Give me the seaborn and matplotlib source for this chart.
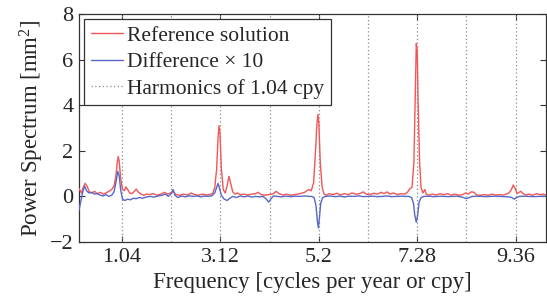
import numpy as np
import pandas as pd
import matplotlib
matplotlib.use("Agg")
import matplotlib.pyplot as plt
import seaborn as sns

# ---- data ----
ref_freq = [0.13, 0.18, 0.22, 0.26, 0.30, 0.35, 0.40, 0.46, 0.52, 0.58, 0.64, 0.70, 0.76, 0.82, 0.87,
            0.91, 0.94, 0.96, 0.98, 1.01, 1.05, 1.09, 1.12, 1.16, 1.20, 1.25, 1.30, 1.34, 1.38, 1.44,
            1.50, 1.56, 1.62, 1.70, 1.78, 1.86, 1.94, 2.00, 2.06, 2.12, 2.18, 2.26, 2.34, 2.42, 2.50,
            2.58, 2.66, 2.74, 2.82, 2.90, 2.96, 3.00, 3.04, 3.07, 3.09, 3.11, 3.14, 3.18, 3.22, 3.26,
            3.30, 3.34, 3.38, 3.43, 3.48, 3.54, 3.62, 3.70, 3.78, 3.86, 3.92, 3.98, 4.06, 4.14, 4.22,
            4.30, 4.36, 4.44, 4.52, 4.60, 4.70, 4.80, 4.90, 4.98, 5.04, 5.09, 5.13, 5.16, 5.18, 5.20,
            5.23, 5.27, 5.31, 5.36, 5.42, 5.50, 5.58, 5.66, 5.74, 5.82, 5.90, 5.98, 6.06, 6.14, 6.20,
            6.28, 6.36, 6.44, 6.52, 6.58, 6.64, 6.70, 6.78, 6.86, 6.94, 7.02, 7.08, 7.13, 7.17, 7.21,
            7.24, 7.26, 7.28, 7.30, 7.33, 7.36, 7.40, 7.44, 7.47, 7.52, 7.60, 7.68, 7.76, 7.84, 7.92,
            8.00, 8.08, 8.16, 8.24, 8.30, 8.36, 8.42, 8.48, 8.54, 8.62, 8.70, 8.78, 8.86, 8.94, 9.02,
            9.10, 9.16, 9.22, 9.27, 9.31, 9.35, 9.39, 9.43, 9.47, 9.52, 9.58, 9.64, 9.72, 9.80, 9.88,
            9.95, 10.0]
ref_power = [0.35, 0.15, 0.40, 0.57, 0.45, 0.20, 0.15, 0.22, 0.12, 0.18, 0.10, 0.15, 0.22, 0.30, 0.45,
             0.90, 1.50, 1.75, 1.55, 0.80, 0.30, 0.25, 0.42, 0.30, 0.15, 0.12, 0.22, 0.32, 0.20, 0.10,
             0.05, 0.10, 0.08, 0.12, 0.05, 0.10, 0.18, 0.10, 0.15, 0.22, 0.08, 0.05, 0.10, 0.06, 0.15,
             0.08, 0.05, 0.10, 0.06, 0.08, 0.15, 0.40, 1.20, 2.60, 3.10, 2.80, 1.20, 0.30, 0.15, 0.45,
             0.88, 0.55, 0.20, 0.10, 0.15, 0.08, 0.10, 0.06, 0.10, 0.12, 0.18, 0.08, 0.05, 0.08, 0.10,
             0.22, 0.12, 0.06, 0.10, 0.05, 0.08, 0.12, 0.18, 0.30, 0.25, 0.60, 2.00, 3.20, 3.60, 3.20,
             1.50, 0.40, 0.10, 0.05, 0.12, 0.08, 0.14, 0.06, 0.12, 0.08, 0.15, 0.10, 0.12, 0.20, 0.10,
             0.08, 0.14, 0.10, 0.18, 0.12, 0.20, 0.10, 0.15, 0.08, 0.12, 0.10, 0.20, 0.35, 0.40, 1.50,
             4.50, 6.70, 6.40, 4.00, 1.50, 0.40, 0.15, 0.30, 0.10, 0.05, 0.10, 0.06, 0.12, 0.08, 0.12,
             0.06, 0.10, 0.05, 0.08, 0.15, 0.10, 0.20, 0.18, 0.06, 0.05, 0.08, 0.05, 0.10, 0.06, 0.08,
             0.06, 0.10, 0.15, 0.30, 0.50, 0.35, 0.12, 0.18, 0.22, 0.12, 0.06, 0.10, 0.05, 0.12, 0.08,
             0.10, 0.05]

diff_freq = [0.13, 0.17, 0.21, 0.25, 0.29, 0.34, 0.40, 0.46, 0.52, 0.58, 0.64, 0.70, 0.76, 0.82, 0.87,
             0.91, 0.95, 0.98, 1.01, 1.05, 1.10, 1.16, 1.22, 1.28, 1.34, 1.40, 1.48, 1.56, 1.64, 1.72,
             1.80, 1.88, 1.96, 2.02, 2.08, 2.12, 2.16, 2.22, 2.30, 2.38, 2.46, 2.54, 2.62, 2.70, 2.78,
             2.86, 2.94, 3.00, 3.04, 3.07, 3.10, 3.14, 3.20, 3.26, 3.32, 3.38, 3.46, 3.54, 3.62, 3.70,
             3.78, 3.86, 3.94, 4.02, 4.08, 4.14, 4.19, 4.24, 4.32, 4.40, 4.50, 4.60, 4.70, 4.80, 4.90,
             5.00, 5.05, 5.10, 5.14, 5.17, 5.19, 5.21, 5.24, 5.28, 5.34, 5.44, 5.54, 5.64, 5.74, 5.84,
             5.94, 6.04, 6.14, 6.24, 6.34, 6.44, 6.54, 6.64, 6.74, 6.84, 6.94, 7.04, 7.10, 7.16, 7.20,
             7.23, 7.26, 7.29, 7.32, 7.36, 7.42, 7.52, 7.62, 7.72, 7.82, 7.92, 8.02, 8.12, 8.20, 8.26,
             8.32, 8.38, 8.44, 8.54, 8.64, 8.74, 8.84, 8.94, 9.04, 9.14, 9.22, 9.28, 9.33, 9.38, 9.44,
             9.54, 9.64, 9.74, 9.84, 9.94, 10.0]
diff_power = [-0.60, -0.20, 0.20, 0.45, 0.25, 0.15, 0.18, 0.10, 0.12, 0.05, 0.02, 0.08, 0.00, 0.05, 0.20,
              0.60, 1.10, 0.90, 0.30, -0.12, -0.18, -0.12, -0.15, -0.08, -0.10, -0.05, -0.08, -0.02, 0.00, -0.03,
              0.02, 0.05, 0.10, 0.00, 0.12, 0.30, 0.05, -0.05, 0.02, -0.02, 0.03, 0.00, 0.02, -0.02, 0.02,
              0.00, 0.03, 0.15, 0.40, 0.57, 0.35, 0.05, -0.12, -0.18, -0.08, 0.00, -0.05, 0.02, -0.02, 0.02,
              -0.03, 0.00, -0.02, 0.00, -0.10, -0.25, -0.10, 0.02, 0.00, -0.02, 0.01, -0.01, 0.01, 0.00, 0.02,
              0.00, 0.00, -0.05, -0.40, -1.10, -1.38, -1.00, -0.30, -0.05, 0.00, 0.02, -0.01, 0.01, -0.02, 0.01,
              0.00, 0.02, -0.01, 0.00, 0.01, -0.01, 0.00, 0.02, -0.01, 0.00, 0.01, 0.00, 0.00, -0.05, -0.30,
              -0.85, -1.13, -0.80, -0.25, -0.05, 0.00, 0.01, -0.01, 0.00, 0.01, -0.01, 0.00, 0.01, -0.02, -0.05,
              -0.10, -0.05, 0.00, 0.01, 0.00, -0.01, 0.00, 0.01, 0.00, -0.01, -0.02, -0.05, -0.12, -0.05, 0.00,
              0.01, 0.00, -0.01, 0.00, 0.01, 0.00]

harmonic_base = 1.04
n_harmonics = 9
tick_values = [1.04, 3.12, 5.2, 7.28, 9.36]
tick_labels = ["1.04", "3.12", "5.2", "7.28", "9.36"]
y_ticks = [-2, 0, 2, 4, 6, 8]

# ---- styling ----
sns.set_style("ticks")
plt.rcParams['font.family'] = ['Liberation Serif', 'DejaVu Serif']
plt.rcParams['mathtext.fontset'] = 'custom'
plt.rcParams['mathtext.rm'] = 'Liberation Serif'
plt.rcParams['mathtext.it'] = 'Liberation Serif:italic'

fig = plt.figure(figsize=(5.47, 2.96), dpi=100)
ax = fig.add_axes([0.1444, 0.1824, 0.8536, 0.7703])

harmonics = [harmonic_base * k for k in range(1, n_harmonics + 1)]
for i, h in enumerate(harmonics):
    ax.axvline(h, color='#8a8a8a', linestyle=(0, (1, 2)), linewidth=0.9, zorder=1,
               label='Harmonics of 1.04 cpy' if i == 0 else None)

ref_df = pd.DataFrame({"f": ref_freq, "p": ref_power})
diff_df = pd.DataFrame({"f": diff_freq, "p": diff_power})
sns.lineplot(data=ref_df, x="f", y="p", ax=ax, color='#f25656', linewidth=1.0,
             label='Reference solution', zorder=3)
sns.lineplot(data=diff_df, x="f", y="p", ax=ax, color='#5868c8', linewidth=1.0,
             label='Difference \u00d7 10', zorder=3)

ax.set_xlim(0.13, 10.0)
ax.set_ylim(-2, 8)
ax.set_xticks(tick_values)
ax.set_xticklabels(tick_labels)
ax.set_yticks(y_ticks)
ax.tick_params(direction='in', top=True, right=True, length=4, width=0.8,
               labelsize=16, pad=4, color='#333333')
for s in ax.spines.values():
    s.set_linewidth(0.9)
    s.set_color('#333333')

ax.set_xlabel('Frequency [cycles per year or cpy]', fontsize=16.5, labelpad=4)
ax.set_ylabel('Power Spectrum [mm$^2$]', fontsize=16.5, labelpad=3)

handles, labels = ax.get_legend_handles_labels()
order = [labels.index('Reference solution'), labels.index('Difference \u00d7 10'),
         labels.index('Harmonics of 1.04 cpy')]
leg = ax.legend([handles[i] for i in order], [labels[i] for i in order],
                loc='upper left', bbox_to_anchor=(0.0, 1.0), fontsize=15.5,
                frameon=True, fancybox=False, framealpha=1, edgecolor='#333333',
                handlelength=1.5, handletextpad=0.2, borderpad=0.3, labelspacing=0.3,
                borderaxespad=0.25)
leg.get_frame().set_linewidth(0.9)

fig.savefig('out.png', dpi=100)
